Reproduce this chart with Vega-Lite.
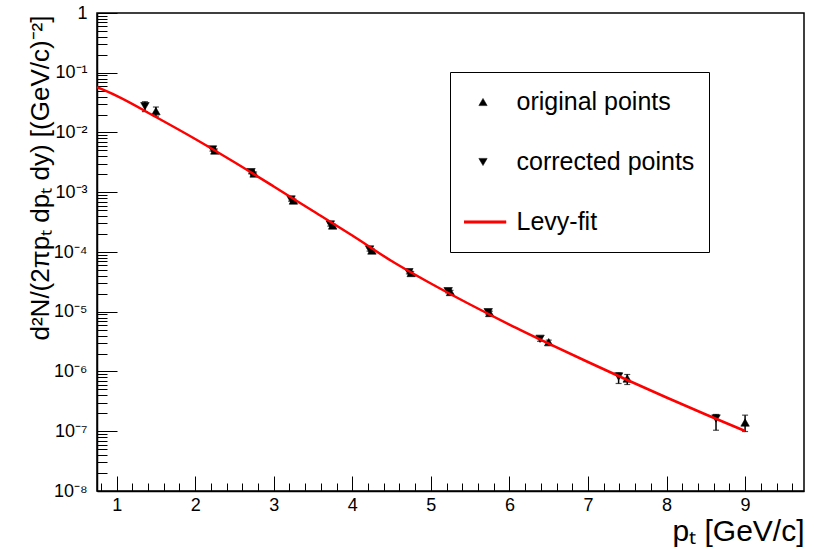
{
  "$schema": "https://vega.github.io/schema/vega-lite/v6.json",
  "width": 707,
  "height": 478,
  "autosize": {"type": "none"},
  "padding": {"left": 97, "top": 13, "right": 24, "bottom": 58},
  "background": "white",
  "config": {
    "font": "Liberation Sans",
    "view": {"stroke": "black", "strokeWidth": 1.5},
    "legend": {
      "orient": "none",
      "legendX": 353,
      "legendY": 59,
      "padding": 14,
      "strokeColor": "black",
      "fillColor": "white",
      "symbolOffset": 6.5,
      "labelOffset": 21,
      "clipHeight": 32,
      "rowPadding": 28,
      "labelFont": "Liberation Sans",
      "labelFontSize": 25,
      "labelColor": "black",
      "labelLimit": 400,
      "symbolSize": 70,
      "symbolStrokeWidth": 0.5,
      "direction": "vertical"
    }
  },
  "datasets": {
    "spectrum": [
      {"pt": 1.36, "v": 0.02756, "lo": 0.02236, "hi": 0.03276, "series": "corrected points"},
      {"pt": 2.22, "v": 0.005195, "lo": 0.00488, "hi": 0.00551, "series": "corrected points"},
      {"pt": 2.71, "v": 0.002166, "lo": 0.00204, "hi": 0.0023, "series": "corrected points"},
      {"pt": 3.22, "v": 0.000756, "lo": 0.00071, "hi": 0.0008, "series": "corrected points"},
      {"pt": 3.72, "v": 0.0002886, "lo": 0.000271, "hi": 0.000306, "series": "corrected points"},
      {"pt": 4.22, "v": 0.0001101, "lo": 0.0001035, "hi": 0.0001167, "series": "corrected points"},
      {"pt": 4.72, "v": 4.59e-5, "lo": 4.31e-5, "hi": 4.87e-5, "series": "corrected points"},
      {"pt": 5.22, "v": 2.208e-5, "lo": 2.07e-5, "hi": 2.34e-5, "series": "corrected points"},
      {"pt": 5.73, "v": 9.83e-6, "lo": 9.15e-6, "hi": 1.05e-5, "series": "corrected points"},
      {"pt": 6.39, "v": 3.526e-6, "lo": 3.2e-6, "hi": 3.85e-6, "series": "corrected points"},
      {"pt": 7.39, "v": 8.25e-7, "lo": 6.3e-7, "hi": 9.5e-7, "series": "corrected points"},
      {"pt": 8.63, "v": 1.634e-7, "lo": 1.04e-7, "hi": 1.91e-7, "series": "corrected points"},
      {"pt": 1.5, "v": 0.02273, "lo": 0.0187, "hi": 0.0267, "series": "original points"},
      {"pt": 2.25, "v": 0.004996, "lo": 0.0047, "hi": 0.0053, "series": "original points"},
      {"pt": 2.75, "v": 0.00206, "lo": 0.00194, "hi": 0.00218, "series": "original points"},
      {"pt": 3.25, "v": 0.0007275, "lo": 0.000684, "hi": 0.000771, "series": "original points"},
      {"pt": 3.75, "v": 0.0002777, "lo": 0.000261, "hi": 0.000294, "series": "original points"},
      {"pt": 4.25, "v": 0.0001059, "lo": 9.95e-5, "hi": 0.0001123, "series": "original points"},
      {"pt": 4.75, "v": 4.45e-5, "lo": 4.18e-5, "hi": 4.72e-5, "series": "original points"},
      {"pt": 5.25, "v": 2.14e-5, "lo": 2.0e-5, "hi": 2.28e-5, "series": "original points"},
      {"pt": 5.75, "v": 9.53e-6, "lo": 8.9e-6, "hi": 1.02e-5, "series": "original points"},
      {"pt": 6.5, "v": 3.093e-6, "lo": 2.85e-6, "hi": 3.35e-6, "series": "original points"},
      {"pt": 7.5, "v": 7.63e-7, "lo": 6.06e-7, "hi": 8.91e-7, "series": "original points"},
      {"pt": 9.0, "v": 1.401e-7, "lo": 9.9e-8, "hi": 1.86e-7, "series": "original points"}
    ],
    "levy": [
      {"pt": 0.75, "v": 0.05729},
      {"pt": 1.0, "v": 0.04113},
      {"pt": 1.5, "v": 0.01817},
      {"pt": 2.0, "v": 0.007785},
      {"pt": 2.5, "v": 0.003172},
      {"pt": 3.0, "v": 0.001248},
      {"pt": 3.5, "v": 0.0004855},
      {"pt": 4.0, "v": 0.0001889},
      {"pt": 4.5, "v": 7.07e-5},
      {"pt": 5.0, "v": 2.97e-5},
      {"pt": 5.5, "v": 1.322e-5},
      {"pt": 6.0, "v": 6.115e-6},
      {"pt": 6.5, "v": 2.941e-6},
      {"pt": 7.0, "v": 1.442e-6},
      {"pt": 7.5, "v": 7.206e-7},
      {"pt": 8.0, "v": 3.671e-7},
      {"pt": 8.5, "v": 1.907e-7},
      {"pt": 9.0, "v": 1.01e-7}
    ]
  },
  "encoding": {
    "x": {
      "field": "pt",
      "type": "quantitative",
      "scale": {"domain": [0.75, 9.75], "nice": false, "zero": false},
      "axis": {
        "title": "pₜ [GeV/c]",
        "titleFont": "Liberation Sans",
        "titleFontSize": 30,
        "titleFontWeight": "normal",
        "titleColor": "black",
        "titleAlign": "right",
        "titleBaseline": "alphabetic",
        "titleAngle": 0,
        "titleX": 707,
        "titleY": 49,
        "grid": false,
        "domainColor": "black",
        "domainWidth": 1.5,
        "tickColor": "black",
        "tickWidth": 1,
        "tickSize": {"condition": {"test": "abs(datum.value - round(datum.value)) < 0.001", "value": -15}, "value": -8},
        "values": [0.8, 1, 1.2, 1.4, 1.6, 1.8, 2, 2.2, 2.4, 2.6, 2.8, 3, 3.2, 3.4, 3.6, 3.8, 4, 4.2, 4.4, 4.6, 4.8, 5, 5.2, 5.4, 5.6, 5.8, 6, 6.2, 6.4, 6.6, 6.8, 7, 7.2, 7.4, 7.6, 7.8, 8, 8.2, 8.4, 8.6, 8.8, 9, 9.2, 9.4, 9.6],
        "labelExpr": "abs(datum.value - round(datum.value)) < 0.001 ? format(datum.value, 'd') : ''",
        "labelFont": "Liberation Sans",
        "labelFontSize": 18,
        "labelColor": "black",
        "labelOverlap": false,
        "labelFlush": false,
        "labelPadding": 20
      }
    },
    "y": {
      "field": "v",
      "type": "quantitative",
      "scale": {"type": "log", "domain": [1e-8, 1], "nice": false},
      "axis": {
        "title": "d²N/(2πpₜ dpₜ dy) [(GeV/c)⁻²]",
        "titleFont": "Liberation Sans",
        "titleFontSize": 26,
        "titleFontWeight": "normal",
        "titleColor": "black",
        "titleAngle": -90,
        "titleAlign": "right",
        "titleBaseline": "alphabetic",
        "titleX": -49,
        "titleY": 2,
        "grid": false,
        "domainColor": "black",
        "domainWidth": 1.5,
        "tickColor": "black",
        "tickWidth": 1,
        "tickSize": {"condition": {"test": "abs(log(datum.value)/LN10 - round(log(datum.value)/LN10)) < 0.001", "value": -20}, "value": -10},
        "values": [1e-8, 2e-8, 3e-8, 4e-8, 5e-8, 6e-8, 7e-8, 8e-8, 9e-8, 1e-7, 2e-7, 3e-7, 4e-7, 5e-7, 6e-7, 7e-7, 8e-7, 9e-7, 1e-6, 2e-6, 3e-6, 4e-6, 5e-6, 6e-6, 7e-6, 8e-6, 9e-6, 1e-5, 2e-5, 3e-5, 4e-5, 5e-5, 6e-5, 7e-5, 8e-5, 9e-5, 1e-4, 2e-4, 3e-4, 4e-4, 5e-4, 6e-4, 7e-4, 8e-4, 9e-4, 1e-3, 2e-3, 3e-3, 4e-3, 5e-3, 6e-3, 7e-3, 8e-3, 9e-3, 1e-2, 2e-2, 3e-2, 4e-2, 5e-2, 6e-2, 7e-2, 8e-2, 9e-2, 0.1, 0.2, 0.3, 0.4, 0.5, 0.6, 0.7, 0.8, 0.9, 1],
        "labelExpr": "abs(log(datum.value)/LN10 - round(log(datum.value)/LN10)) < 0.001 ? (datum.value > 0.5 ? '1' : '10' + ['', '⁻¹', '⁻²', '⁻³', '⁻⁴', '⁻⁵', '⁻⁶', '⁻⁷', '⁻⁸'][round(-log(datum.value)/LN10)]) : ''",
        "labelFont": "Liberation Sans",
        "labelFontSize": 18,
        "labelColor": "black",
        "labelOverlap": false,
        "labelFlush": false,
        "labelPadding": 30
      }
    }
  },
  "layer": [
    {
      "data": {"name": "spectrum"},
      "mark": {"type": "errorbar", "ticks": {"size": 6, "color": "black", "thickness": 1.2}, "rule": {"color": "black", "strokeWidth": 1.5}},
      "encoding": {
        "y": {"field": "lo", "type": "quantitative"},
        "y2": {"field": "hi"}
      }
    },
    {
      "data": {"name": "spectrum"},
      "mark": {"type": "point", "filled": true, "size": 72, "strokeWidth": 0.6, "opacity": 1},
      "encoding": {
        "shape": {
          "field": "series",
          "type": "nominal",
          "scale": {"domain": ["original points", "corrected points", "Levy-fit"], "range": ["triangle-up", "triangle-down", "M-5.5,-0.3H5.5V0.3H-5.5Z"]},
          "legend": {"title": null}
        },
        "fill": {
          "field": "series",
          "type": "nominal",
          "scale": {"domain": ["original points", "corrected points", "Levy-fit"], "range": ["black", "black", "red"]},
          "legend": {"title": null}
        },
        "stroke": {
          "field": "series",
          "type": "nominal",
          "scale": {"domain": ["original points", "corrected points", "Levy-fit"], "range": ["black", "black", "red"]},
          "legend": {"title": null}
        }
      }
    },
    {
      "data": {"name": "levy"},
      "mark": {"type": "line", "strokeWidth": 2.5, "interpolate": "monotone"},
      "encoding": {
        "stroke": {"datum": "Levy-fit", "type": "nominal", "legend": {"title": null}}
      }
    }
  ]
}
